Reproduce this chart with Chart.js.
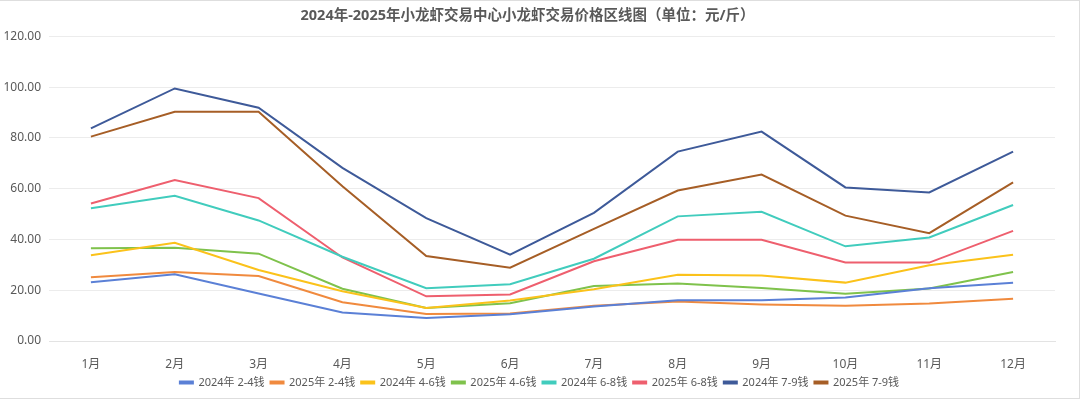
<!DOCTYPE html>
<html>
<head>
<meta charset="utf-8">
<script src="https://cdn.jsdelivr.net/npm/chart.js@4/dist/chart.umd.min.js"></script>
<style>
  html, body { margin: 0; padding: 0; background: #fff; }
  #wrap { width: 1080px; height: 399px; box-sizing: border-box; border: 1px solid #dedede; border-left: none; position: relative; }
</style>
</head>
<body>
<div id="wrap"><canvas id="chart"></canvas></div>
<script>
// 月份
const months = ['1月', '2月', '3月', '4月', '5月', '6月', '7月', '8月', '9月', '10月', '11月', '12月']

// 各规格价格 (元/斤)
const p2024_24 = [23.1, 26.3, 18.7, 11.2, 9.1, 10.5, 13.6, 16.1, 16.1, 17.1, 20.8, 22.9]
const p2025_24 = [25.1, 27.2, 25.6, 15.3, 10.6, 10.8, 13.9, 15.6, 14.4, 13.9, 14.8, 16.6]
const p2024_46 = [33.8, 38.7, 28.0, 19.6, 13.0, 16.0, 20.4, 26.1, 25.8, 23.0, 29.8, 34.0]
const p2025_46 = [36.5, 36.7, 34.4, 20.6, 13.0, 14.9, 21.7, 22.7, 20.9, 18.6, 20.7, 27.2]
const p2024_68 = [52.3, 57.2, 47.5, 33.2, 20.8, 22.4, 32.4, 49.1, 50.9, 37.3, 40.8, 53.6]
const p2025_68 = [54.2, 63.4, 56.3, 32.9, 17.6, 18.3, 31.4, 39.9, 39.9, 30.9, 30.9, 43.4]
const p2024_79 = [83.8, 99.5, 91.9, 68.2, 48.4, 34.0, 50.5, 74.6, 82.5, 60.5, 58.5, 74.6]
const p2025_79 = [80.5, 90.3, 90.3, 61.0, 33.5, 28.9, 44.2, 59.3, 65.6, 49.4, 42.5, 62.5]

const yTicks = [0, 20, 40, 60, 80, 100, 120]

const fontFamily = '"Noto Sans", "Noto Sans CJK SC", sans-serif'

function series(label, data, color) {
    return {
        label: label,
        data: data,
        borderColor: color,
        backgroundColor: color,
        borderWidth: 2,
        pointRadius: 0,
        pointHoverRadius: 0,
        tension: 0,
        fill: false,
    }
}

// legend sits centred on the whole picture, not on the padded area
const legendShift = {
    id: 'legendShift',
    afterLayout(chart) {
        chart.legend.left += 12
        chart.legend.right += 12
    }
}

new Chart(document.querySelector('#chart'), {
    type: 'line',
    data: {
        labels: months,
        datasets: [
            series('2024年 2-4钱', p2024_24, '#5b80d6'),
            series('2025年 2-4钱', p2025_24, '#f08a3e'),
            series('2024年 4-6钱', p2024_46, '#fbc21a'),
            series('2025年 4-6钱', p2025_46, '#7fc24c'),
            series('2024年 6-8钱', p2024_68, '#41ccbd'),
            series('2025年 6-8钱', p2025_68, '#ee5f6e'),
            series('2024年 7-9钱', p2024_79, '#3e5a99'),
            series('2025年 7-9钱', p2025_79, '#a65e26'),
        ]
    },
    plugins: [legendShift],
    options: {
        responsive: true,
        maintainAspectRatio: false,
        animation: false,
        layout: { padding: { left: 0, right: 24, top: 0, bottom: 0 } },
        plugins: {
            title: {
                display: true,
                text: '2024年-2025年小龙虾交易中心小龙虾交易价格区线图（单位：元/斤）',
                color: '#595959',
                font: { family: fontFamily, size: 14.5, weight: 'bold' },
                padding: { top: 6, bottom: 12 },
            },
            legend: {
                position: 'bottom',
                labels: {
                    color: '#595959',
                    font: { family: fontFamily, size: 11 },
                    boxWidth: 13,
                    boxHeight: 2,
                    padding: 6,
                },
            },
            tooltip: { enabled: false },
        },
        scales: {
            x: {
                offset: true,
                grid: { display: false, offset: true },
                border: { display: true, color: '#e3e3e3' },
                ticks: { color: '#595959', font: { family: fontFamily, size: 12 }, padding: 8 },
                afterFit: (scale) => { scale.height = 30 },
            },
            y: {
                min: 0,
                max: 120,
                afterBuildTicks: (scale) => { scale.ticks = yTicks.map(v => ({ value: v })) },
                grid: { color: '#ececec', drawTicks: false },
                border: { display: false },
                ticks: {
                    color: '#595959',
                    font: { family: fontFamily, size: 12 },
                    padding: 8,
                    callback: (v) => Number(v).toFixed(2),
                },
                afterFit: (scale) => { scale.width = 49 },
            }
        }
    }
});
</script>
</body>
</html>
